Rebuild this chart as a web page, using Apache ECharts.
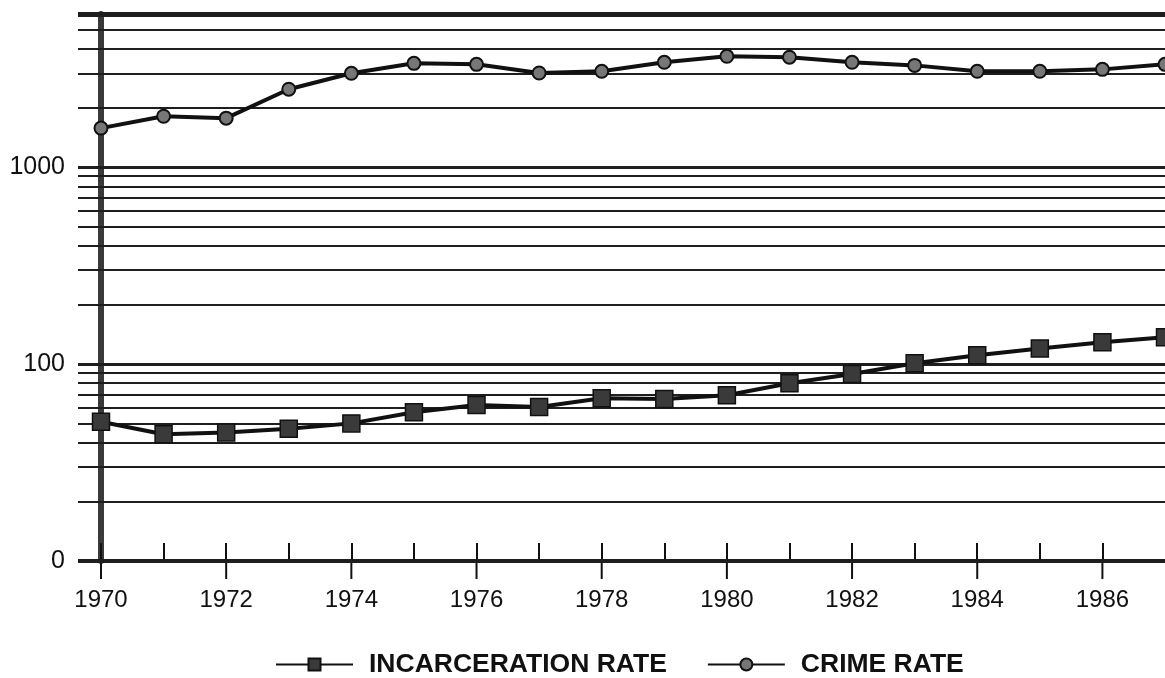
<!DOCTYPE html>
<html>
<head>
<meta charset="utf-8">
<script src="https://cdn.jsdelivr.net/npm/echarts@6/dist/echarts.min.js"></script>
<style>
html,body{margin:0;padding:0;background:#fff;}
#chart{width:1165px;height:678px;}
</style>
</head>
<body>
<div id="chart"></div>
<script>
// ---- data ----
const years = [1970,1971,1972,1973,1974,1975,1976,1977,1978,1979,1980,1981,1982,1983,1984,1985,1986,1987];
const incarcerationRate = [51,44,45,47,50,57,62,60.5,67,66.5,69.5,80,89,101,111,120,129,137];
const crimeRate = [1580,1815,1775,2490,3000,3370,3330,3010,3070,3410,3660,3620,3410,3290,3070,3070,3140,3330];
const labeledYears = [1970,1972,1974,1976,1978,1980,1982,1984,1986];
const yTickLabels = {10:'0', 100:'100', 1000:'1000'};
const minorGridValues = [20,30,40,50,60,70,80,90,200,300,400,500,600,700,800,900,2000,3000,4000,5000];
const majorGridValues = [100,1000];
const yMin = 10;
const yMax = 6000;
const seriesNames = ['INCARCERATION RATE','CRIME RATE'];

const font = '"Liberation Sans", Arial, Helvetica, sans-serif';
const chart = echarts.init(document.getElementById('chart'), null, {renderer:'canvas'});

const gridLineData = []
  .concat(minorGridValues.map(v => ({yAxis: v})))
  .concat(majorGridValues.map(v => ({yAxis: v, lineStyle:{width:3}})))
  .concat([{yAxis: yMax, lineStyle:{width:5}}, {yAxis: yMin, lineStyle:{width:4}}]);

const common = {right: 0, outerBoundsMode: 'none', containLabel: false};

chart.setOption({
  animation: false,
  backgroundColor: '#fff',
  grid: [
    Object.assign({left: 78, top: 14, bottom: 117}, common),
    Object.assign({left: 101, top: 14, bottom: 117}, common)
  ],
  legend: {
    left: 275, top: 651, padding: 0,
    itemWidth: 77, itemHeight: 15, itemGap: 40,
    data: seriesNames,
    textStyle: {fontFamily: font, fontWeight: 'bold', fontSize: 26.5, color: '#111', padding: [0,0,0,11]}
  },
  xAxis: [
    {
      type: 'value', gridIndex: 1, position: 'bottom', min: 1970, max: 1987, interval: 1,
      axisLine: {show: true, lineStyle: {color: '#1a1a1a', width: 4}},
      axisTick: {show: true, inside: true, length: 18, lineStyle: {color: '#111', width: 2}},
      axisLabel: {show: true, fontFamily: font, fontSize: 24, color: '#111', margin: 27, showMaxLabel: false,
        formatter: v => (labeledYears.indexOf(Math.round(v)) >= 0 ? String(Math.round(v)) : '')},
      splitLine: {show: false}
    },
    {
      type: 'value', gridIndex: 0, min: 0, max: 1, show: false
    }
  ],
  yAxis: [
    {
      type: 'log', logBase: 10, gridIndex: 1, min: yMin, max: yMax,
      axisLine: {show: true, lineStyle: {color: '#3a3a3a', width: 6}},
      axisTick: {show: false},
      splitLine: {show: false},
      minorTick: {show: false},
      axisLabel: {fontFamily: font, fontSize: 25, color: '#111', margin: 36,
        formatter: v => { const r = Math.round(v); return yTickLabels[r] !== undefined ? yTickLabels[r] : ''; }}
    },
    {
      type: 'log', logBase: 10, gridIndex: 0, min: yMin, max: yMax, show: false
    }
  ],
  series: [
    {
      name: 'gridlines', type: 'line', xAxisIndex: 1, yAxisIndex: 1, data: [], silent: true, z: 1,
      markLine: {
        silent: true, symbol: ['none','none'], label: {show: false},
        lineStyle: {type: 'solid', color: '#1e1e1e', width: 2},
        emphasis: {disabled: true},
        data: gridLineData
      }
    },
    {
      name: 'outer ticks', type: 'scatter', xAxisIndex: 0, yAxisIndex: 0, silent: true, z: 3, clip: false,
      data: labeledYears.map(y => [y, yMin]),
      symbol: 'rect', symbolSize: [2, 18], symbolOffset: [0, 9],
      itemStyle: {color: '#111', opacity: 1},
      emphasis: {disabled: true}
    },
    {
      name: seriesNames[0], type: 'line', xAxisIndex: 0, yAxisIndex: 0, z: 5, clip: false,
      data: years.map((y, i) => [y, incarcerationRate[i]]),
      symbol: 'rect', symbolSize: 17,
      lineStyle: {color: '#111', width: 4},
      itemStyle: {color: '#3a3a3a', borderColor: '#111', borderWidth: 1.5}
    },
    {
      name: seriesNames[1], type: 'line', xAxisIndex: 0, yAxisIndex: 0, z: 5, clip: false,
      data: years.map((y, i) => [y, crimeRate[i]]),
      symbol: 'circle', symbolSize: 13,
      lineStyle: {color: '#111', width: 4},
      itemStyle: {color: '#777', borderColor: '#111', borderWidth: 2}
    }
  ]
});
</script>
</body>
</html>
